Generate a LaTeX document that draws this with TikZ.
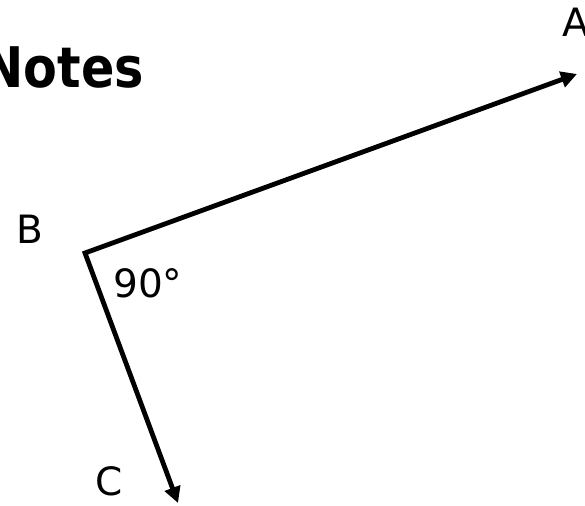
\documentclass[tikz,border=0pt]{standalone}
\usepackage{fontspec}
\setmainfont{DejaVu Sans}
\usetikzlibrary{arrows.meta}
\begin{document}
\begin{tikzpicture}[x=1pt,y=-1pt,
  ray/.style={line width=4.8pt,line join=miter,{Triangle[length=16pt,width=16pt]}-{Triangle[length=16pt,width=16pt]}},
  lbl/.style={inner sep=0pt,font=\fontsize{39}{44}\selectfont},
  ttl/.style={inner sep=0pt,font=\fontsize{56}{62}\selectfont\bfseries}]
\useasboundingbox (0,0) rectangle (585,505);
\coordinate (B) at (85,253);
\coordinate (A) at (577,74);
\coordinate (C) at (178,503);
\draw[ray] (A) -- (B) -- (C);
\node[ttl,anchor=base east,xscale=0.88] (title) at (144,88) {Notes};
\node[lbl,anchor=base west] (la) at (562,37) {A};
\node[lbl,anchor=base west] (lb) at (16,243) {B};
\node[lbl,anchor=base west] (lc) at (95,495) {C};
\node[lbl,anchor=base west] (ang) at (113,297) {90°};
\end{tikzpicture}
\end{document}
